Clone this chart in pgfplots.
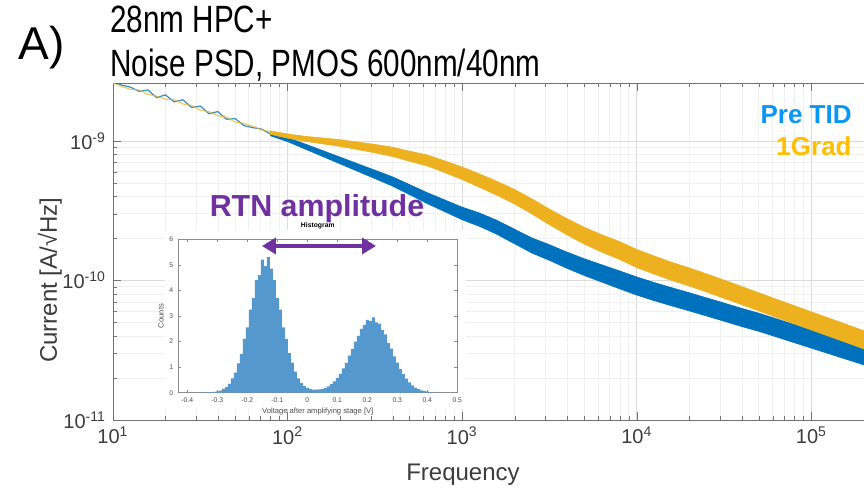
\documentclass[border=0pt]{standalone}
\usepackage{fontspec}
\setmainfont{Liberation Sans}
\newfontfamily\narrowfont{Liberation Sans}[FakeStretch=0.78]
\usepackage{pgfplots}
\pgfplotsset{compat=1.18}
\usetikzlibrary{arrows.meta}
\definecolor{mblue}{RGB}{0,114,189}
\definecolor{morange}{RGB}{237,177,32}
\definecolor{hblue}{RGB}{85,152,205}
\definecolor{lblue}{RGB}{10,150,245}
\definecolor{lgold}{RGB}{255,190,0}
\definecolor{rtn}{RGB}{112,48,160}
\definecolor{axgray}{RGB}{60,60,60}

\begin{document}
\begin{tikzpicture}
\useasboundingbox (-56.5pt,-35pt) rectangle (375.5pt,210pt);

% main PSD plot
\begin{axis}[
  at={(0pt,0pt)}, anchor=south west,
  scale only axis, width=375.5pt, height=168.5pt,
  xmode=log, ymode=log,
  xmin=10, xmax=2e5, ymin=1e-11, ymax=2.6e-9,
  axis x line*=box, axis y line*=left,
  axis line style={black!55}, tick style={black!55},
  tick align=inside, major tick length=4pt, minor tick length=2pt,
  grid=both, major grid style={black!14}, minor grid style={black!6},
  xtick={10,100,1000,10000,100000},
  xticklabels={10\textsuperscript{1},10\textsuperscript{2},10\textsuperscript{3},10\textsuperscript{4},10\textsuperscript{5}},
  ytick={1e-11,1e-10,1e-9},
  yticklabels={10\textsuperscript{-11},10\textsuperscript{-10},10\textsuperscript{-9}},
  tick label style={font=\fontsize{10}{12}\selectfont, text=axgray},
  xlabel={Frequency}, ylabel={Current [A/√Hz]},
  label style={font=\fontsize{12}{14}\selectfont, text=axgray},
  xlabel style={at={(axis description cs:0.466,-0.163)}, anchor=center},
  ylabel style={at={(axis description cs:-0.084,0.415)}, anchor=center},
]
% Pre TID
\addplot[draw=mblue, line width=0.3pt, fill=mblue] coordinates {
  (79.43,1.154e-9) (100,1.059e-9) (125.9,9.507e-10) (158.5,8.531e-10) (199.5,7.656e-10)
  (251.2,6.871e-10) (316.2,6.166e-10) (398.1,5.534e-10) (501.2,4.853e-10) (631.0,4.256e-10)
  (794.3,3.776e-10) (1000,3.350e-10) (1259,3.041e-10) (1585,2.692e-10) (1995,2.328e-10)
  (2512,2.014e-10) (3162,1.803e-10) (3981,1.596e-10) (5012,1.429e-10) (6310,1.294e-10)
  (7943,1.172e-10) (10000,1.059e-10) (12589,9.661e-11) (15849,8.872e-11) (19953,8.166e-11)
  (25119,7.499e-11) (31623,6.887e-11) (39811,6.310e-11) (50119,5.821e-11) (63096,5.309e-11)
  (79433,4.842e-11) (100000,4.416e-11) (125893,4.027e-11) (158489,3.673e-11) (199526,3.350e-11)
  (199526,2.483e-11) (158489,2.723e-11) (125893,2.985e-11) (100000,3.273e-11) (79433,3.589e-11)
  (63096,3.936e-11) (50119,4.315e-11) (39811,4.677e-11) (31623,5.105e-11) (25119,5.559e-11)
  (19953,6.054e-11) (15849,6.577e-11) (12589,7.161e-11) (10000,7.852e-11) (7943,8.730e-11)
  (6310,9.727e-11) (5012,1.084e-10) (3981,1.222e-10) (3162,1.393e-10) (2512,1.570e-10)
  (1995,1.832e-10) (1585,2.138e-10) (1259,2.438e-10) (1000,2.723e-10) (794.3,3.112e-10)
  (631.0,3.556e-10) (501.2,4.112e-10) (398.1,4.753e-10) (316.2,5.370e-10) (251.2,6.067e-10)
  (199.5,6.855e-10) (158.5,7.745e-10) (125.9,8.750e-10) (100,9.886e-10) (79.43,1.091e-9)
};
\addplot[mblue, line width=0.6pt, opacity=0.8] coordinates {
  (10,2.661e-9) (11.22,2.512e-9) (12.59,2.427e-9) (14.13,2.265e-9) (15.85,2.317e-9)
  (17.78,2.042e-9) (19.95,2.138e-9) (22.39,1.905e-9) (25.12,1.972e-9) (28.18,1.738e-9)
  (31.62,1.778e-9) (35.48,1.567e-9) (39.81,1.622e-9) (44.67,1.429e-9) (50.12,1.445e-9)
  (56.23,1.288e-9) (63.10,1.245e-9) (70.79,1.216e-9) (79.43,1.122e-9)
};
% 1 Grad
\addplot[draw=morange, line width=0.3pt, fill=morange] coordinates {
  (79.43,1.180e-9) (100,1.122e-9) (125.9,1.079e-9) (158.5,1.050e-9) (199.5,1.021e-9)
  (251.2,9.817e-10) (316.2,9.441e-10) (398.1,9.016e-10) (501.2,8.433e-10) (631.0,7.925e-10)
  (794.3,7.194e-10) (1000,6.501e-10) (1259,5.794e-10) (1585,5.129e-10) (1995,4.487e-10)
  (2512,3.837e-10) (3162,3.244e-10) (3981,2.773e-10) (5012,2.399e-10) (6310,2.123e-10)
  (7943,1.901e-10) (10000,1.667e-10) (12589,1.496e-10) (15849,1.349e-10) (19953,1.230e-10)
  (25119,1.114e-10) (31623,1.005e-10) (39811,9.057e-11) (50119,8.147e-11) (63096,7.329e-11)
  (79433,6.607e-11) (100000,5.956e-11) (125893,5.370e-11) (158489,4.842e-11) (199526,4.365e-11)
  (199526,3.236e-11) (158489,3.589e-11) (125893,3.981e-11) (100000,4.416e-11) (79433,4.898e-11)
  (63096,5.432e-11) (50119,6.040e-11) (39811,6.715e-11) (31623,7.447e-11) (25119,8.260e-11)
  (19953,9.120e-11) (15849,1.000e-10) (12589,1.109e-10) (10000,1.236e-10) (7943,1.416e-10)
  (6310,1.596e-10) (5012,1.820e-10) (3981,2.123e-10) (3162,2.506e-10) (2512,2.992e-10)
  (1995,3.532e-10) (1585,4.074e-10) (1259,4.645e-10) (1000,5.285e-10) (794.3,5.929e-10)
  (631.0,6.622e-10) (501.2,7.145e-10) (398.1,7.745e-10) (316.2,8.222e-10) (251.2,8.669e-10)
  (199.5,9.141e-10) (158.5,9.528e-10) (125.9,9.931e-10) (100,1.047e-9) (79.43,1.117e-9)
};
\addplot[morange, line width=0.6pt, opacity=0.7] coordinates {
  (10,2.600e-9) (11.22,2.455e-9) (12.59,2.344e-9) (14.13,2.317e-9) (15.85,2.163e-9)
  (17.78,2.089e-9) (19.95,1.995e-9) (22.39,1.972e-9) (25.12,1.841e-9) (28.18,1.799e-9)
  (31.62,1.660e-9) (35.48,1.622e-9) (39.81,1.514e-9) (44.67,1.479e-9) (50.12,1.365e-9)
  (56.23,1.334e-9) (63.10,1.274e-9) (70.79,1.202e-9) (79.43,1.161e-9)
};
\end{axis}

% white backing of the pasted histogram
\fill[white] (26pt,5.5pt) rectangle (176.5pt,95pt);

% inset histogram
\begin{axis}[
  at={(32.65pt,13.65pt)}, anchor=south west,
  scale only axis, width=139.5pt, height=76.7pt,
  xmin=-0.43, xmax=0.5, ymin=0, ymax=6,
  xtick={-0.4,-0.3,-0.2,-0.1,0,0.1,0.2,0.3,0.4,0.5},
  xticklabels={-0.4,-0.3,-0.2,-0.1,0,0.1,0.2,0.3,0.4,0.5},
  ytick={0,1,2,3,4,5,6}, yticklabels={0,1,2,3,4,5,6},
  axis line style={black!45}, tick style={black!45},
  tick align=inside, major tick length=1.5pt,
  tick label style={font=\fontsize{3.4}{4}\selectfont, text=black!70},
  xticklabel style={yshift=1pt}, yticklabel style={xshift=1pt},
  xlabel={Voltage after amplifying stage [V]}, ylabel={Counts},
  label style={font=\fontsize{3.8}{4.5}\selectfont, text=black!70},
  xlabel style={yshift=4pt}, ylabel style={yshift=-4pt},
  title={\textbf{Histogram}},
  title style={font=\fontsize{3.4}{4}\selectfont, at={(axis description cs:0.5,1)}, anchor=south, inner sep=0pt, yshift=-1.2pt},
]
\addplot[ybar, bar width=0.01, fill=hblue, draw=none] coordinates {
  (-0.35,0.00) (-0.34,0.01) (-0.33,0.01) (-0.32,0.02) (-0.31,0.03) (-0.30,0.05)
  (-0.29,0.08) (-0.28,0.14) (-0.27,0.22) (-0.26,0.34) (-0.25,0.56) (-0.24,0.78)
  (-0.23,1.15) (-0.22,1.52) (-0.21,2.10) (-0.20,2.55) (-0.19,3.25) (-0.18,3.70)
  (-0.17,4.40) (-0.16,4.60) (-0.15,5.20) (-0.14,4.95) (-0.13,5.30) (-0.12,4.85)
  (-0.11,4.40) (-0.10,3.70) (-0.09,3.25) (-0.08,2.55) (-0.07,2.10) (-0.06,1.55)
  (-0.05,1.18) (-0.04,0.82) (-0.03,0.56) (-0.02,0.38) (-0.01,0.26) (0.00,0.18)
  (0.01,0.14) (0.02,0.12) (0.03,0.12) (0.04,0.13) (0.05,0.15) (0.06,0.19)
  (0.07,0.25) (0.08,0.33) (0.09,0.44) (0.10,0.58) (0.11,0.74) (0.12,0.95)
  (0.13,1.17) (0.14,1.45) (0.15,1.70) (0.16,2.00) (0.17,2.22) (0.18,2.50)
  (0.19,2.65) (0.20,2.85) (0.21,2.80) (0.22,2.95) (0.23,2.75) (0.24,2.70)
  (0.25,2.45) (0.26,2.28) (0.27,1.95) (0.28,1.72) (0.29,1.42) (0.30,1.18)
  (0.31,0.92) (0.32,0.73) (0.33,0.55) (0.34,0.40) (0.35,0.29) (0.36,0.20)
  (0.37,0.14) (0.38,0.09) (0.39,0.06) (0.40,0.04) (0.41,0.02) (0.42,0.01)
};
\node[anchor=south west, inner sep=0.5pt, font=\fontsize{3.2}{4}\selectfont, text=black!70]
  at (axis description cs:0,1) {×10\textsuperscript{4}};
\end{axis}

% annotations
\draw[rtn, line width=2pt, {Triangle[length=7pt,width=8pt]}-{Triangle[length=7pt,width=8pt]}]
  (74.5pt,87pt) -- (131.5pt,87pt);
\node[anchor=base, inner sep=0pt, text=rtn, font=\fontsize{15.2}{18}\selectfont\bfseries]
  at (102pt,101.5pt) {RTN amplitude};
\node[anchor=base east, inner sep=0pt, text=lblue, font=\fontsize{13}{15}\selectfont\bfseries]
  at (369.5pt,148pt) {Pre TID};
\node[anchor=base east, inner sep=0pt, text=lgold, font=\fontsize{13}{15}\selectfont\bfseries]
  at (369.5pt,132pt) {1Grad};
\node[anchor=center, inner sep=0pt, font=\fontsize{23}{26}\selectfont]
  at (-35.5pt,186pt) {A)};
\node[anchor=base west, inner sep=0pt, font=\narrowfont\fontsize{19}{22}\selectfont]
  at (-1.5pt,193.5pt) {28nm HPC+};
\node[anchor=base west, inner sep=0pt, font=\narrowfont\fontsize{19}{22}\selectfont]
  at (-1.5pt,171.5pt) {Noise PSD, PMOS 600nm/40nm};
\end{tikzpicture}
\end{document}
